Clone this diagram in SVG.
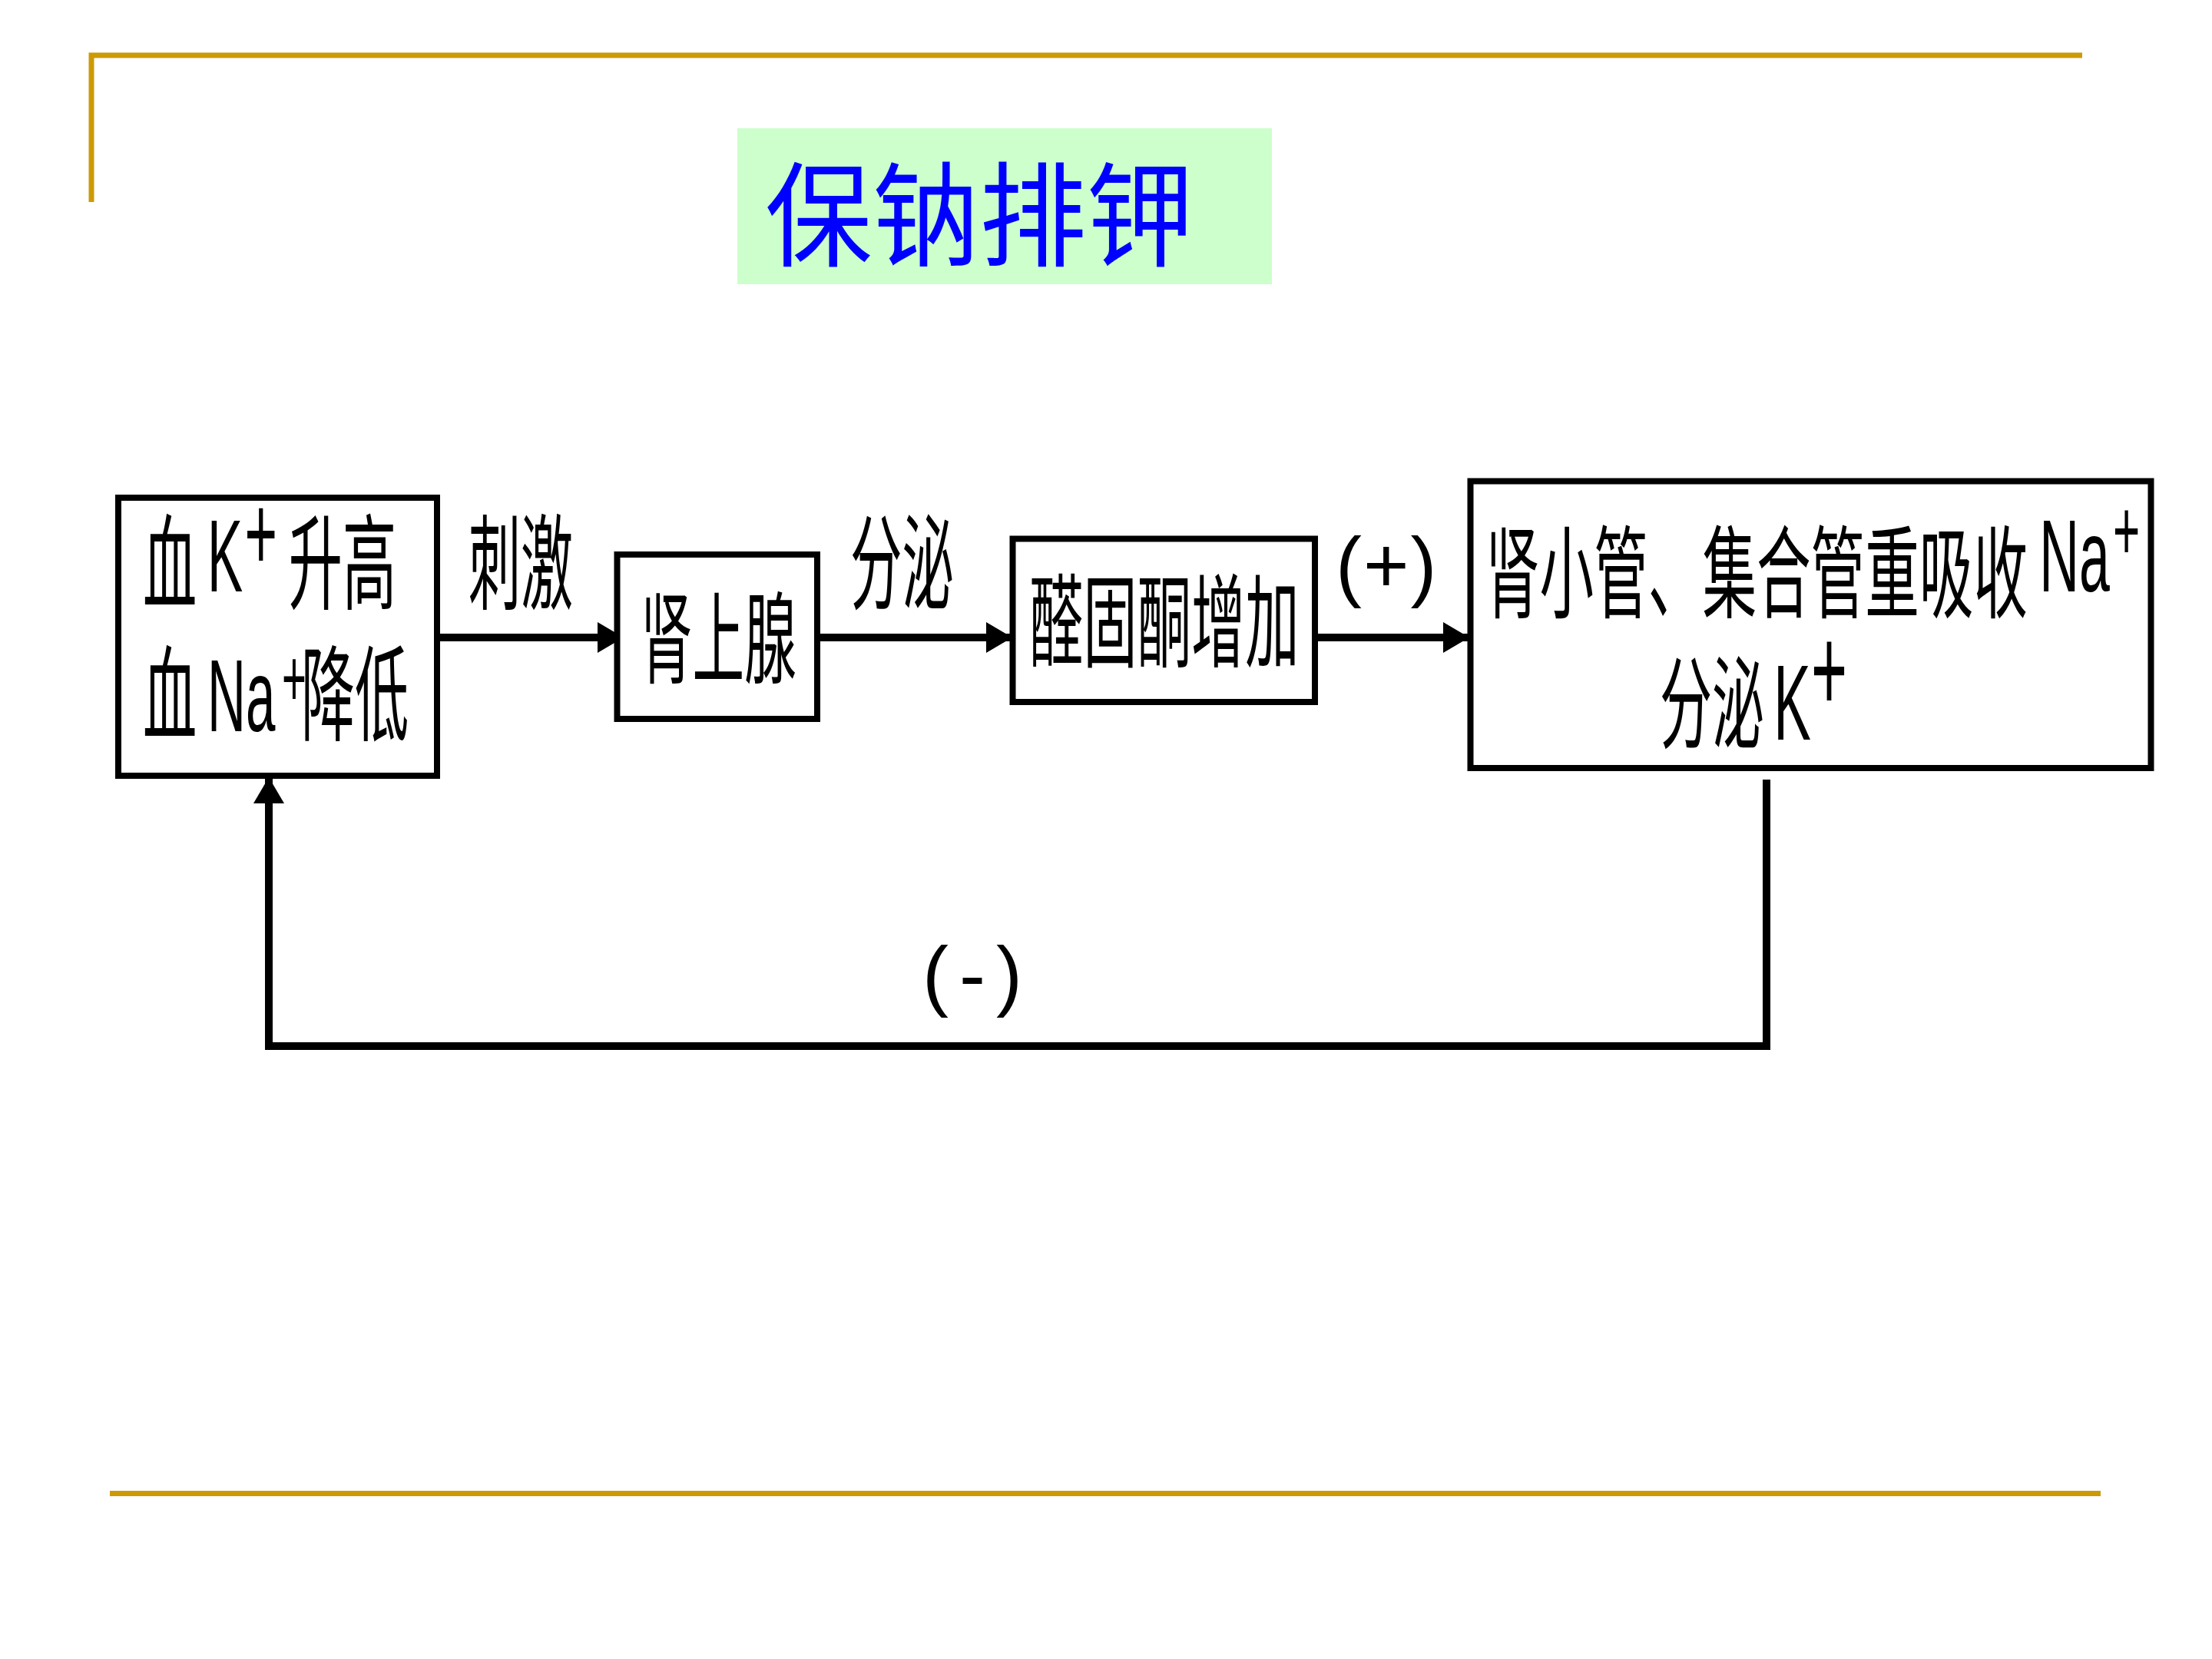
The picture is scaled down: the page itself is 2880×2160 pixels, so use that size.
<svg xmlns="http://www.w3.org/2000/svg" width="2880" height="2160" viewBox="0 0 2880 2160">
<style>
.cn{font-family:"Noto Sans CJK SC","Noto Sans CJK JP",sans-serif;fill:#000}
.lat{font-family:"Liberation Sans",Arial,sans-serif}
.box{fill:#fff;stroke:#000;stroke-width:8}
.conn{fill:none;stroke:#000;stroke-width:10}
.gold{stroke:#CC9A06;stroke-width:7;fill:none}
</style>
<defs>
<marker id="ah" viewBox="0 0 34 44" refX="34" refY="22" markerWidth="34" markerHeight="44" markerUnits="userSpaceOnUse" orient="auto">
<path d="M0,2 L34,22 L0,42 Z" fill="#000"/>
</marker>
</defs>
<rect width="2880" height="2160" fill="#fff"/>
<g id="frame">
<path class="gold" d="M119,263 V72 H2711"/>
<line class="gold" x1="143" y1="1944.5" x2="2735" y2="1944.5"/>
</g>
<g id="title">
<rect x="960" y="167" width="696" height="203" fill="#CCFFCC"/>
<text class="cn" transform="translate(996,335) scale(0.943,1)" font-size="148" style="fill:#0000FF">保钠排钾</text>
</g>
<g id="connectors">
<line class="conn" x1="572" y1="830" x2="812" y2="830" marker-end="url(#ah)"/>
<line class="conn" x1="1066" y1="830" x2="1318" y2="830" marker-end="url(#ah)"/>
<line class="conn" x1="1715" y1="830" x2="1913" y2="830" marker-end="url(#ah)"/>
<path class="conn" d="M2300,1015 V1362 H350 V1012" marker-end="url(#ah)"/>
<text class="lat" x="1739" y="771" font-size="102" letter-spacing="2">(+)</text>
<text class="lat" x="1201" y="1304" font-size="102" letter-spacing="14">(-)</text>
<text class="cn" transform="translate(610,783) scale(0.504,1)" font-size="135">刺激</text>
<text class="cn" transform="translate(1107,783) scale(0.5,1)" font-size="135">分泌</text>
</g>
<g id="node-blood">
<rect class="box" x="154" y="648" width="415" height="362"/>
<text class="cn" transform="translate(186,0) scale(0.52,1)" font-size="135"><tspan x="0" y="783">血</tspan><tspan class="lat" x="161.5" y="770" font-size="133">K</tspan><tspan class="lat" x="255" y="742" font-size="140">+</tspan><tspan x="365" y="783">升高</tspan></text>
<text class="cn" transform="translate(186,0) scale(0.52,1)" font-size="135"><tspan x="0" y="954">血</tspan><tspan class="lat" x="161.5" y="952" font-size="133">Na</tspan><tspan class="lat" x="348" y="919" font-size="105">+</tspan><tspan x="396" y="954">降低</tspan></text>
</g>
<g id="node-adrenal">
<rect class="box" x="803.5" y="722" width="260.5" height="214"/>
<text class="cn" transform="translate(834,879) scale(0.52,1)" font-size="130">肾上腺</text>
</g>
<g id="node-aldosterone">
<rect class="box" x="1318.5" y="701.5" width="393.5" height="212.5"/>
<text class="cn" transform="translate(1340,858) scale(0.533,1)" font-size="132">醛固酮增加</text>
</g>
<g id="node-tubule">
<rect class="box" x="1914.5" y="626.5" width="886" height="373.5"/>
<text class="cn" transform="translate(1934,0) scale(0.539,1)" font-size="131"><tspan x="0" y="794">肾小管、集合管重吸收</tspan><tspan class="lat" x="1338" y="770" font-size="133">Na</tspan><tspan class="lat" x="1516" y="729" font-size="112">+</tspan></text>
<text class="cn" transform="translate(2161,0) scale(0.52,1)" font-size="131"><tspan x="0" y="964">分泌</tspan><tspan class="lat" x="285" y="963" font-size="140">K</tspan><tspan class="lat" x="379" y="926" font-size="155">+</tspan></text>
</g>
</svg>
